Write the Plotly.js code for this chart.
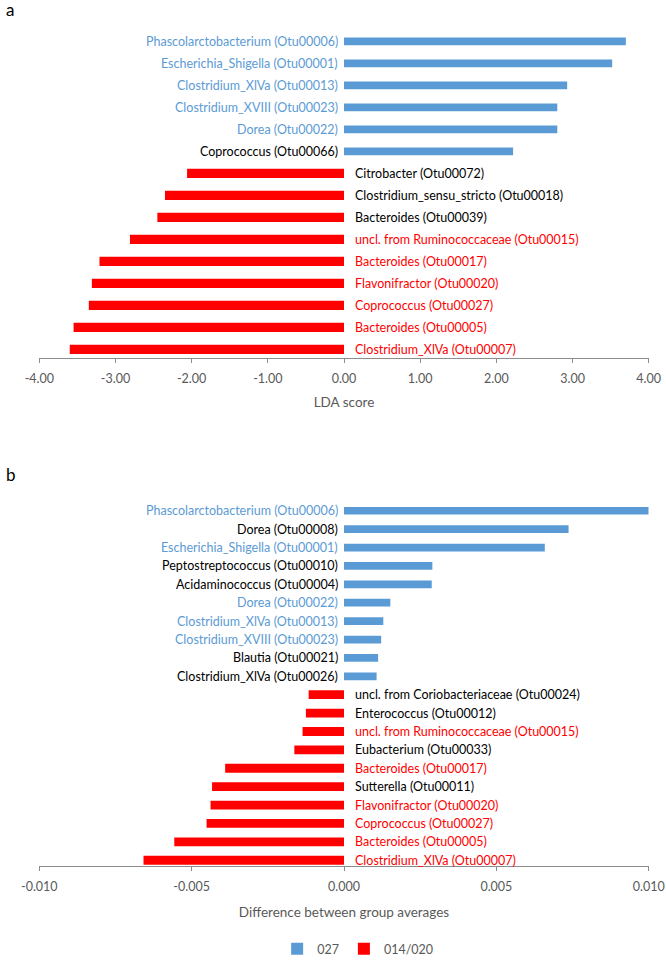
<!DOCTYPE html>
<html>
<head>
<meta charset="utf-8">
<script src="https://cdn.plot.ly/plotly-3.0.1.min.js"></script>
<style>html,body{margin:0;padding:0;background:#fff;}#chart{width:666px;height:964px;}</style>
</head>
<body>
<div id="chart"></div>
<script>
// ---- Data: panel a (LDA score) ----
const ldaTaxa = [
  "Phascolarctobacterium (Otu00006)",
  "Escherichia_Shigella (Otu00001)",
  "Clostridium_XlVa (Otu00013)",
  "Clostridium_XVIII (Otu00023)",
  "Dorea (Otu00022)",
  "Coprococcus (Otu00066)",
  "Citrobacter (Otu00072)",
  "Clostridium_sensu_stricto (Otu00018)",
  "Bacteroides (Otu00039)",
  "uncl. from Ruminococcaceae (Otu00015)",
  "Bacteroides (Otu00017)",
  "Flavonifractor (Otu00020)",
  "Coprococcus (Otu00027)",
  "Bacteroides (Otu00005)",
  "Clostridium_XlVa (Otu00007)"
];
const ldaScores = [3.70, 3.52, 2.93, 2.80, 2.80, 2.22, -2.06, -2.35, -2.45, -2.81, -3.21, -3.31, -3.35, -3.55, -3.60];
const ldaTickVals = [-4, -3, -2, -1, 0, 1, 2, 3, 4];
const ldaTickText = ["-4.00", "-3.00", "-2.00", "-1.00", "0.00", "1.00", "2.00", "3.00", "4.00"];

// ---- Data: panel b (difference between group averages) ----
const diffTaxa = [
  "Phascolarctobacterium (Otu00006)",
  "Dorea (Otu00008)",
  "Escherichia_Shigella (Otu00001)",
  "Peptostreptococcus (Otu00010)",
  "Acidaminococcus (Otu00004)",
  "Dorea (Otu00022)",
  "Clostridium_XlVa (Otu00013)",
  "Clostridium_XVIII (Otu00023)",
  "Blautia (Otu00021)",
  "Clostridium_XlVa (Otu00026)",
  "uncl. from Coriobacteriaceae (Otu00024)",
  "Enterococcus (Otu00012)",
  "uncl. from Ruminococcaceae (Otu00015)",
  "Eubacterium (Otu00033)",
  "Bacteroides (Otu00017)",
  "Sutterella (Otu00011)",
  "Flavonifractor (Otu00020)",
  "Coprococcus (Otu00027)",
  "Bacteroides (Otu00005)",
  "Clostridium_XlVa (Otu00007)"
];
const diffValues = [0.0100, 0.00737, 0.00659, 0.00290, 0.00288, 0.00152, 0.00129, 0.00122, 0.00112, 0.00107,
  -0.00116, -0.00125, -0.00136, -0.00163, -0.00390, -0.00433, -0.00438, -0.00451, -0.00557, -0.00658];
const diffTickVals = [-0.010, -0.005, 0, 0.005, 0.010];
const diffTickText = ["-0.010", "-0.005", "0.000", "0.005", "0.010"];

const groupNames = ["027", "014/020"];

// ---- Styling ----
const BLUE = "#5B9BD5", RED = "#FF0000", GREY = "#595959", AXIS = "#8C8C8C";
const FONT = "Lato, 'Open Sans', sans-serif";

function split(cats, vals, sign) {
  const y = [], x = [];
  cats.forEach((c, i) => { if ((sign > 0 && vals[i] > 0) || (sign < 0 && vals[i] < 0)) { y.push(c); x.push(vals[i]); } });
  return {x, y};
}

const traces = [];
function addPanel(cats, vals, xa, ya, wPos, wNeg, showLeg) {
  const p = split(cats, vals, 1), n = split(cats, vals, -1);
  traces.push({type: "bar", orientation: "h", x: p.x, y: p.y, xaxis: xa, yaxis: ya, name: groupNames[0],
    marker: {color: BLUE}, width: wPos, showlegend: showLeg, hoverinfo: "x+y"});
  traces.push({type: "bar", orientation: "h", x: n.x, y: n.y, xaxis: xa, yaxis: ya, name: groupNames[1],
    marker: {color: RED}, width: wNeg, showlegend: showLeg, hoverinfo: "x+y"});
}
addPanel(ldaTaxa, ldaScores, "x", "y", 0.35, 0.42, false);
addPanel(diffTaxa, diffValues, "x2", "y2", 0.42, 0.48, true);

// label colour: taxa found in both analyses take their group's colour
const annotations = [];
function addLabels(cats, vals, other, xref, yref) {
  cats.forEach((c, i) => {
    const shared = other.indexOf(c) >= 0;
    const pos = vals[i] > 0;
    annotations.push({x: 0, y: c, xref: xref, yref: yref, text: c, showarrow: false,
      xanchor: pos ? "right" : "left", xshift: pos ? -4 : 9,
      font: {family: FONT, size: 12.5, color: shared ? (pos ? BLUE : RED) : "#000000"}});
  });
}
addLabels(ldaTaxa, ldaScores, diffTaxa, "x", "y");
addLabels(diffTaxa, diffValues, ldaTaxa, "x2", "y2");

annotations.push({text: "a", x: 0.006, y: 1 - 10/964, xref: "paper", yref: "paper", showarrow: false,
  xanchor: "left", yanchor: "middle", font: {family: FONT, size: 17, color: "#000"}});
annotations.push({text: "b", x: 0.006, y: 1 - 478/964, xref: "paper", yref: "paper", showarrow: false,
  xanchor: "left", yanchor: "middle", font: {family: FONT, size: 17, color: "#000"}});

const xCommon = {
  showgrid: false, zeroline: false, showline: true, linecolor: AXIS, linewidth: 1,
  ticks: "outside", ticklen: 4, tickcolor: AXIS, tickwidth: 1, ticklabelstandoff: 5,
  tickfont: {family: FONT, size: 12.5, color: GREY},
  domain: [39.3/666, 648.7/666], fixedrange: true
};
const yCommon = {
  type: "category", showgrid: false, zeroline: false, showline: false, showticklabels: false, ticks: ""
};

const layout = {
  width: 666, height: 964,
  margin: {l: 0, r: 0, t: 0, b: 0},
  paper_bgcolor: "#fff", plot_bgcolor: "#fff",
  barmode: "overlay",
  font: {family: FONT, size: 12, color: GREY},
  xaxis: Object.assign({}, xCommon, {anchor: "y", range: [-4, 4], tickvals: ldaTickVals, ticktext: ldaTickText,
    title: {text: "LDA score", font: {family: FONT, size: 13.5, color: GREY}, standoff: 12}}),
  yaxis: Object.assign({}, yCommon, {anchor: "x", categoryorder: "array", categoryarray: ldaTaxa,
    range: [14.38, -0.6], domain: [1 - 360.7/964, 1 - 28.4/964]}),
  xaxis2: Object.assign({}, xCommon, {anchor: "y2", range: [-0.010, 0.010], tickvals: diffTickVals, ticktext: diffTickText,
    title: {text: "Difference between group averages", font: {family: FONT, size: 13.5, color: GREY}, standoff: 14}}),
  yaxis2: Object.assign({}, yCommon, {anchor: "x2", categoryorder: "array", categoryarray: diffTaxa,
    range: [19.3, -0.6], domain: [1 - 873/964, 1 - 503.9/964]}),
  showlegend: true,
  legend: {orientation: "h", x: 0.537, xanchor: "center", y: 1 - 957/964, yanchor: "middle",
    font: {family: FONT, size: 12.5, color: GREY}, itemwidth: 30,
    traceorder: "normal", tracegroupgap: 0},
  annotations: annotations
};

Plotly.newPlot("chart", traces, layout, {displayModeBar: false, staticPlot: true});
</script>
</body>
</html>
